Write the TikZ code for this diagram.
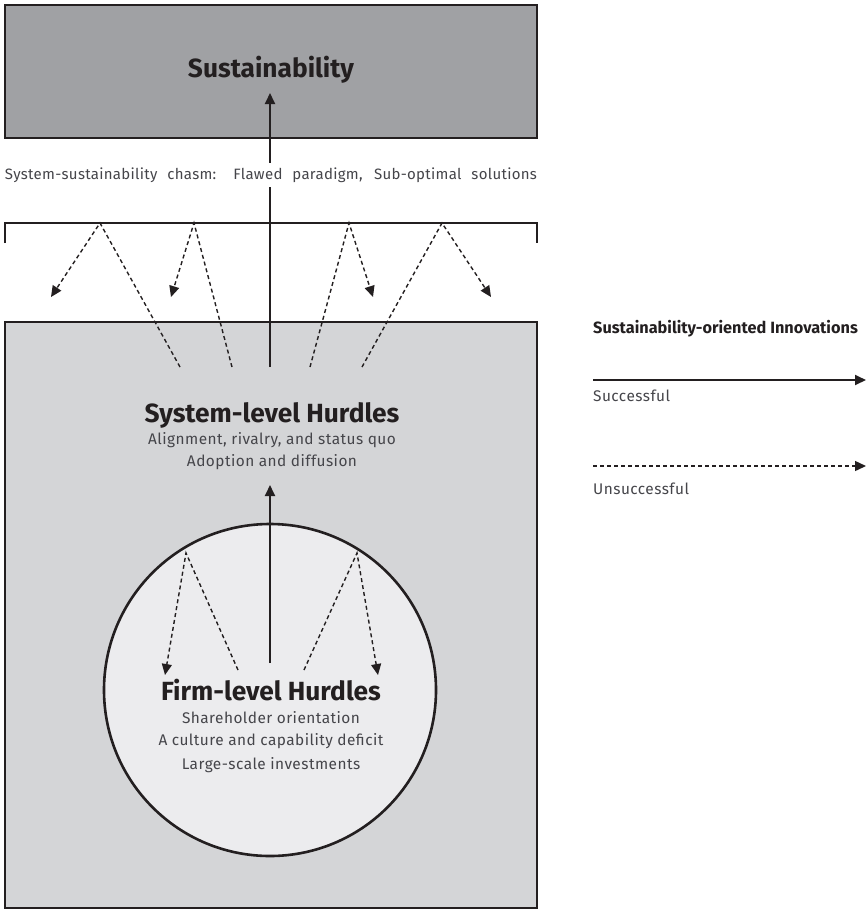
\documentclass[tikz,border=0pt]{standalone}
\usepackage{fontspec}
\setmainfont{Fira Sans}
\usetikzlibrary{arrows.meta}
\definecolor{ink}{HTML}{231F20}
\definecolor{topgray}{HTML}{A0A1A4}
\definecolor{boxgray}{HTML}{D4D5D7}
\definecolor{circgray}{HTML}{ECECEE}
\definecolor{softink}{HTML}{45454A}
\begin{document}
\begin{tikzpicture}[x=1pt, y=-1pt,
        frame/.style={draw=ink, line width=2.6pt},
        win/.style={draw=ink, line width=1.8pt, -{Triangle[length=11pt,width=10pt]}},
        fail/.style={draw=ink, line width=1.4pt, dash pattern=on 4pt off 3pt, -{Triangle[length=11pt,width=10pt]}},
        title/.style={font=\bfseries\fontsize{26.3}{30}\selectfont, text=ink, inner sep=0pt, anchor=base},
        note/.style={font=\fontsize{15.4}{18}\selectfont\addfontfeatures{LetterSpace=3}, text=softink, inner sep=0pt, anchor=base}]

            \useasboundingbox (0,0) rectangle (867,911);

            % boxes
            \filldraw[frame, fill=topgray] (5,5) rectangle (537,138);
            \filldraw[frame, fill=boxgray] (5,322) rectangle (537,908);
            \node[circle, frame, fill=circgray, minimum size=332pt, inner sep=0pt] (firmzone) at (270,690) {};

            % points of the connectors
            \coordinate (sustip) at (270,93);
            \coordinate (sysout) at (270,367);
            \coordinate (systip) at (270,485);
            \coordinate (firmout) at (270,663);

            \coordinate (brL) at (5,243);
            \coordinate (brR) at (537,243);

            \coordinate (s1) at (180,367);
            \coordinate (s2) at (232,367);
            \coordinate (s3) at (310,367);
            \coordinate (s4) at (362,367);
            \coordinate (p1) at (100,223);
            \coordinate (p2) at (194,223);
            \coordinate (p3) at (349,223);
            \coordinate (p4) at (442,223);
            \coordinate (e1) at (51,297);
            \coordinate (e2) at (171,297);
            \coordinate (e3) at (373,297);
            \coordinate (e4) at (491,297);

            \coordinate (t1) at (238,670);
            \coordinate (t2) at (304,670);
            \coordinate (q1) at (186,553);
            \coordinate (q2) at (357,553);
            \coordinate (f1) at (165,675);
            \coordinate (f2) at (378,675);

            % successful paths
            \draw[win] (sysout) -- (sustip);
            \draw[win] (firmout) -- (systip);

            % the chasm
            \node[note, anchor=center, fill=white, inner ysep=5pt,
                  font=\fontsize{15}{18}\selectfont\addfontfeatures{LetterSpace=2}] (chasm) at (271,175)
                {\makebox[532pt][s]{System-sustainability chasm: Flawed paradigm, Sub-optimal solutions}};
            \draw[frame] (brL) -- ++(0,-20) -| (brR);

            % unsuccessful paths
            \draw[fail] (s1) -- (p1) -- (e1);
            \draw[fail] (s2) -- (p2) -- (e2);
            \draw[fail] (s3) -- (p3) -- (e3);
            \draw[fail] (s4) -- (p4) -- (e4);
            \draw[fail] (t1) -- (q1) -- (f1);
            \draw[fail] (t2) -- (q2) -- (f2);

            % labels
            \node[title] (sustain) at (271,77) {Sustainability};
            \node[title] (system) at (272,422) {System-level Hurdles};
            \node[note] (system1) at (272,444) {Alignment, rivalry, and status quo};
            \node[note] (system2) at (272,466) {Adoption and diffusion};
            \node[title] (firm) at (271,700) {Firm-level Hurdles};
            \node[note] (firm1) at (271,723) {Shareholder orientation};
            \node[note] (firm2) at (271,745) {A culture and capability deficit};
            \node[note] (firm3) at (271,769) {Large-scale investments};

            % legend
            \coordinate (winA) at (593,380);
            \coordinate (winB) at (866,380);
            \coordinate (failA) at (593,466);
            \coordinate (failB) at (866,466);
            \node[title, anchor=base west, font=\bfseries\fontsize{16.3}{19}\selectfont] (legend) at (593,333) {Sustainability-oriented Innovations};
            \draw[win] (winA) -- (winB);
            \node[note, anchor=base west] (legwin) at (593,401) {Successful};
            \draw[fail] (failA) -- (failB);
            \node[note, anchor=base west] (legfail) at (593,494) {Unsuccessful};
        \end{tikzpicture}
\end{document}
